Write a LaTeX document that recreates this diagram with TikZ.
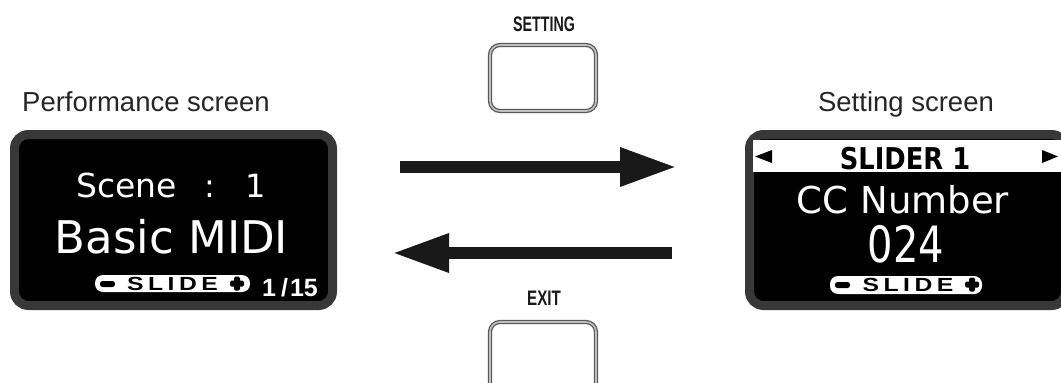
\documentclass[tikz,border=0pt]{standalone}
\usepackage{fontspec}
\setmainfont{Liberation Sans}
\newfontfamily\scrfont{DejaVu Sans}
\usetikzlibrary{arrows.meta}
\definecolor{bezel}{HTML}{383838}
\tikzset{
  screen/.style={draw=bezel, line width=9pt, fill=black, rounded corners=14pt, inner sep=0pt},
  lbl/.style={font=\fontsize{27.5}{30}\selectfont, text=black!85, anchor=base, inner sep=0pt},
  scrtxt/.style={text=white, inner sep=0pt, anchor=base},
  pill/.style={fill=white, rounded corners=8pt, inner sep=0pt},
  pilltxt/.style={text=black, inner sep=0pt, anchor=base, font=\fontsize{19}{20}\selectfont\bfseries},
  bigarrow/.style={line width=12pt, -{Triangle[length=57pt, width=36pt]}, black!90},
  btn/.style={draw=black!65, double=black!25, line width=1.3pt, double distance=1.6pt, rounded corners=10pt},
  btnlbl/.style={inner sep=0pt, anchor=base, text=black!90, font=\fontsize{21}{22}\selectfont\bfseries},
}
\newcommand{\slideword}{\scalebox{1.3}[1]{S\kern3.5pt L\kern3.5pt I\kern3.5pt D\kern3.5pt E}}
\begin{document}
\begin{tikzpicture}[x=1pt,y=-1pt]
\clip (0,0) rectangle (1061,383);
\fill[white] (0,0) rectangle (1061,383);

% labels
\node[lbl] (lperf) at (146,111) {Performance screen};
\node[lbl] (lset) at (906,111) {Setting screen};

% left screen
\node[screen, minimum width=318pt, minimum height=171pt] (perf) at (173.5,220) {};
\node[scrtxt, anchor=base west, font=\scrfont\fontsize{33}{34}\selectfont] (scene) at (76,197) {Scene};
\node[scrtxt, font=\scrfont\fontsize{32}{34}\selectfont] (colon) at (210,197) {:};
\node[scrtxt, font=\scrfont\fontsize{32}{34}\selectfont] (one) at (256,197) {1};
\node[scrtxt, font=\scrfont\fontsize{45}{47}\selectfont] (basic) at (171.5,253) {Basic MIDI};
\node[pill, minimum width=155pt, minimum height=17pt] (pillL) at (172.5,283.5) {};
\fill[black, rounded corners=2.5pt] (100,281) rectangle (115,287);
\fill[black, rounded corners=1.5pt] (230,280.5) rectangle (244,286.5);
\fill[black, rounded corners=1.5pt] (234,276.5) rectangle (240,290.5);
\node[pilltxt] (slideL) at (172.5,290.5) {\slideword};
\node[scrtxt, anchor=base west, font=\fontsize{25}{26}\selectfont\bfseries] (page) at (262,296) {1\kern5pt/\kern2pt15};

% right screen
\node[screen, minimum width=316pt, minimum height=171pt] (sets) at (907.5,220) {};
\fill[white] (753,140) rectangle (1061,172);
\fill[black] (755,156.5) -- (772,150) -- (772,163) -- cycle;
\fill[black] (1058,156.5) -- (1042,150) -- (1042,163) -- cycle;
\node[inner sep=0pt, anchor=base, font=\scrfont\bfseries\fontsize{30}{32}\selectfont] (slider) at (905,169) {\scalebox{0.86}[1]{SLIDER 1}};
\node[scrtxt, font=\scrfont\fontsize{37}{39}\selectfont] (cc) at (903,213) {CC Number};
\node[scrtxt, font=\scrfont\fontsize{50}{52}\selectfont] (num) at (906,262) {\scalebox{0.8}[1]{024}};
\node[pill, minimum width=152pt, minimum height=18pt] (pillR) at (906,285) {};
\fill[black, rounded corners=2.5pt] (835,282) rectangle (850,288);
\fill[black, rounded corners=1.5pt] (965,281.5) rectangle (979,287.5);
\fill[black, rounded corners=1.5pt] (969,277.5) rectangle (975,291.5);
\node[pilltxt] (slideR) at (908,291.5) {\slideword};

% buttons
\node[btnlbl] (lsetting) at (544,31) {\scalebox{0.68}[1]{SETTING}};
\draw[btn] (490,45) rectangle (596,111);
\node[btnlbl] (lexit) at (544,305) {\scalebox{0.72}[1]{EXIT}};
\draw[btn] (490,322) rectangle (596,420);

% arrows
\coordinate (a1s) at (400,167);
\coordinate (a1e) at (677,167);
\coordinate (a2s) at (672,253);
\coordinate (a2e) at (392,253);
\draw[bigarrow] (a1s) -- (a1e);
\draw[bigarrow] (a2s) -- (a2e);
\end{tikzpicture}
\end{document}
